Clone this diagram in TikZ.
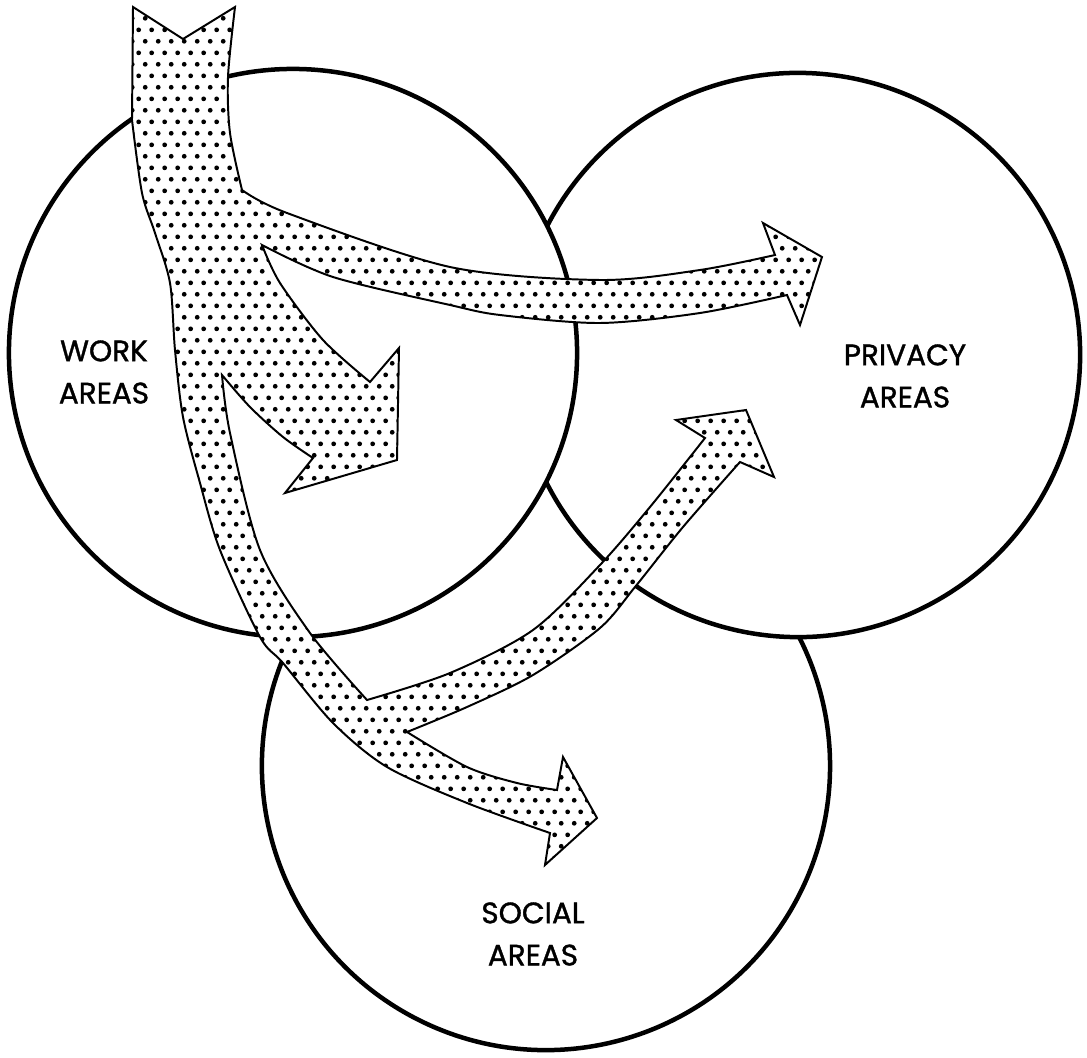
\documentclass[tikz,border=0pt]{standalone}
\usepackage{fontspec}
\setmainfont{Poppins}[FakeBold=1.2]
\usetikzlibrary{patterns.meta}
\newcommand\arealabelfont{\fontsize{21}{30}\selectfont}

\tikzdeclarepattern{
  name=hexdots,
  type=uncolored,
  bottom left={(0pt,0pt)},
  top right={(9.2pt,16.3pt)},
  tile size={(9.2pt,16.3pt)},
  code={
    \fill (2.3pt,4.075pt) circle (1.7pt);
    \fill (6.9pt,12.225pt) circle (1.7pt);
  }
}

\tikzset{
  areacircle/.style={line width=3.2pt},
  bigarrow/.style={draw, line width=1.4pt, line join=miter, preaction={fill=white}, pattern=hexdots, pattern color=black},
  arealabel/.style={align=center, font=\arealabelfont}
}

\begin{document}
\begin{tikzpicture}[x=0.025cm, y=-0.025cm]
        \useasboundingbox (0,0) rectangle (1087,1058);
        \coordinate (work) at (293,353);
        \coordinate (privacy) at (798,355);
        \coordinate (social) at (546,766);
        % circles, hidden where they run under another one
        \draw[areacircle] (work) circle[radius=7.1cm];
        \draw[areacircle] (privacy) ++(206.72:7.05cm) arc[start angle=206.72, end angle=512.83, radius=7.05cm];
        \draw[areacircle] (social) ++(152.98:7.1cm) arc[start angle=152.98, end angle=387.02, radius=7.1cm];
        % the dotted arrow
        \draw[bigarrow] (133,7) -- (183,39) -- (235,7)
            -- plot[smooth] coordinates {(235,7) (228,77) (230,133) (242,190)}
            -- plot[smooth] coordinates {(242,190) (287,213) (450,267) (600,280) (700,270) (775,255)}
            -- (763,223) -- (822,257) -- (800,325) -- (787,295)
            -- plot[smooth] coordinates {(787,295) (700,313) (600,323) (500,315) (450,305) (333,277) (262,245)}
            -- plot[smooth] coordinates {(262,245) (280,283) (323,340) (370,382)}
            -- (399,348) -- (397,460) -- (285,493) -- (313,458)
            -- plot[smooth] coordinates {(313,458) (283,437) (250,407) (222,375)}
            -- plot[smooth] coordinates {(222,375) (230,433) (260,550) (310,633) (367,700)}
            -- plot[smooth] coordinates {(367,700) (450,673) (533,630) (600,565) (650,507) (705,438)}
            -- (676,420) -- (746,410) -- (774,477) -- (740,462)
            -- plot[smooth] coordinates {(740,462) (683,527) (635,587) (600,628) (533,675) (467,707) (407,732)}
            -- plot[smooth] coordinates {(407,732) (467,767) (517,783) (557,790)}
            -- (563,757) -- (597,818) -- (545,865) -- (550,833)
            -- plot[smooth] coordinates {(550,833) (467,803) (387,767) (333,723) (283,663) (260,637) (220,550) (200,483) (183,417) (175,350) (170,283) (155,233) (142,193) (132,120)}
            -- cycle;
        \node[arealabel] (worklabel) at (104,372) {WORK\\AREAS};
        \node[arealabel] (privacylabel) at (905,376) {PRIVACY\\AREAS};
        \node[arealabel] (sociallabel) at (533,934) {SOCIAL\\AREAS};
    \end{tikzpicture}
\end{document}
